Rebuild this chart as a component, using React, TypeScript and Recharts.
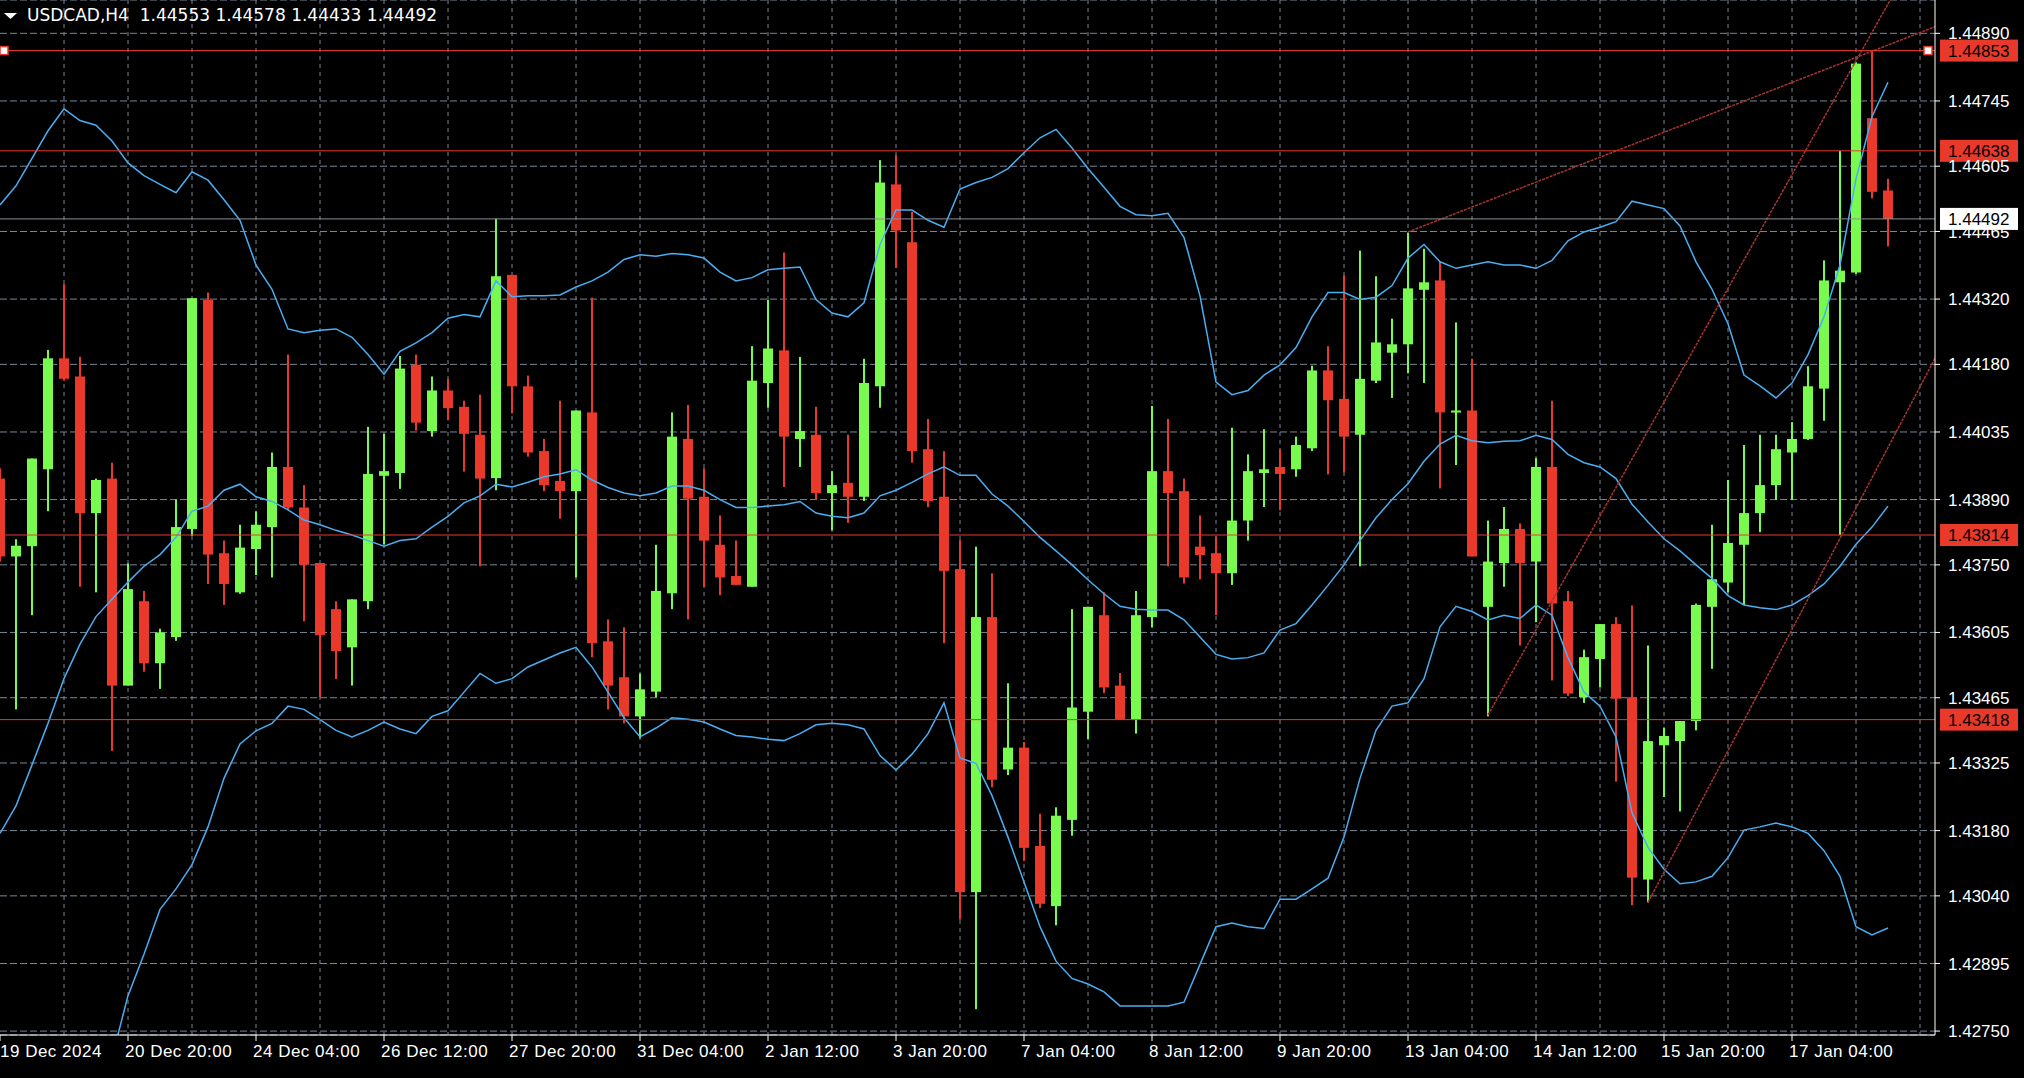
import {
  ComposedChart,
  XAxis,
  YAxis,
  CartesianGrid,
  Bar,
  Line,
  ReferenceLine,
  ReferenceDot,
} from "recharts";

// USDCAD H4 candles, bar index = position in the arrays
const opens = [
  1.43935, 1.43768, 1.4379, 1.43955, 1.44193, 1.44154, 1.43861, 1.43935, 1.43491, 1.43672,
  1.43539, 1.43595, 1.43827, 1.44318, 1.43775, 1.43691, 1.43784, 1.43831, 1.4396, 1.43873,
  1.43754, 1.43655, 1.43573, 1.43672, 1.43941, 1.43947, 1.44179, 1.44037, 1.44124, 1.44089,
  1.44029, 1.43936, 1.44372, 1.44133, 1.43994, 1.4393, 1.43908, 1.44077, 1.43586, 1.43509,
  1.43425, 1.43478, 1.43689, 1.4402, 1.43896, 1.43793, 1.43726, 1.43703, 1.4414, 1.4421,
  1.4402, 1.44029, 1.43904, 1.43926, 1.43896, 1.44133, 1.44566, 1.44442, 1.43998, 1.43896,
  1.43741, 1.43048, 1.43638, 1.43311, 1.43358, 1.43147, 1.43018, 1.43203, 1.43435, 1.43642,
  1.43491, 1.43418, 1.43638, 1.43951, 1.43908, 1.43789, 1.43775, 1.43732, 1.43845, 1.43947,
  1.4396, 1.43955, 1.44, 1.44167, 1.44106, 1.44029, 1.44145, 1.44205, 1.44223, 1.4434,
  1.4436, 1.44078, 1.44081, 1.4366, 1.43754, 1.43827, 1.43757, 1.4396, 1.43672, 1.43466,
  1.43548, 1.43623, 1.43466, 1.43075, 1.43363, 1.43372, 1.43415, 1.4366, 1.43712, 1.43793,
  1.43861, 1.43921, 1.43991, 1.4402, 1.44128, 1.44356, 1.44377, 1.44708, 1.44553,
];
const highs = [
  1.43957, 1.43805, 1.43978, 1.44211, 1.44352, 1.44196, 1.43935, 1.43969, 1.43753, 1.43694,
  1.43613, 1.4389, 1.44322, 1.44334, 1.43802, 1.43836, 1.43865, 1.43991, 1.44201, 1.43921,
  1.43754, 1.43672, 1.43676, 1.44046, 1.44031, 1.44198, 1.44201, 1.44154, 1.44149, 1.44102,
  1.44115, 1.44492, 1.44372, 1.44156, 1.4402, 1.44102, 1.44081, 1.44323, 1.43633, 1.43616,
  1.43517, 1.43793, 1.44077, 1.44093, 1.43957, 1.43856, 1.43802, 1.44219, 1.44318, 1.4442,
  1.44196, 1.44089, 1.43951, 1.44029, 1.44192, 1.44618, 1.44629, 1.44507, 1.44063, 1.43994,
  1.43803, 1.43789, 1.43732, 1.43496, 1.4337, 1.43216, 1.4323, 1.43655, 1.4366, 1.43691,
  1.43518, 1.43694, 1.44091, 1.44063, 1.43935, 1.43856, 1.43811, 1.44044, 1.43987, 1.44041,
  1.43998, 1.44025, 1.44177, 1.44219, 1.44371, 1.44424, 1.44369, 1.44278, 1.44462, 1.44428,
  1.444, 1.4427, 1.44192, 1.43845, 1.43874, 1.43839, 1.43979, 1.44102, 1.43694, 1.43568,
  1.43623, 1.43638, 1.43663, 1.43577, 1.43401, 1.43415, 1.43667, 1.43836, 1.43932, 1.44007,
  1.44029, 1.44029, 1.44056, 1.44176, 1.44403, 1.44638, 1.44828, 1.44853, 1.44578,
];
const lows = [
  1.43757, 1.4344, 1.43642, 1.43865, 1.44145, 1.43703, 1.43691, 1.43351, 1.43491, 1.43521,
  1.43484, 1.43587, 1.43812, 1.43709, 1.43664, 1.43688, 1.43728, 1.43723, 1.43868, 1.43629,
  1.43466, 1.43505, 1.43491, 1.43655, 1.43794, 1.43913, 1.44038, 1.44025, 1.4406, 1.4395,
  1.43747, 1.4391, 1.44075, 1.43982, 1.43908, 1.43849, 1.43723, 1.43552, 1.4344, 1.4341,
  1.43378, 1.43466, 1.43655, 1.43633, 1.43703, 1.43685, 1.43707, 1.43703, 1.44087, 1.43917,
  1.4396, 1.4389, 1.43824, 1.4384, 1.43887, 1.44087, 1.44387, 1.43969, 1.43874, 1.43582,
  1.42989, 1.42797, 1.43273, 1.43299, 1.43115, 1.43014, 1.42977, 1.43169, 1.43376, 1.43475,
  1.43418, 1.43388, 1.43616, 1.43747, 1.4371, 1.43719, 1.43642, 1.43707, 1.43802, 1.43874,
  1.43867, 1.43939, 1.43994, 1.43944, 1.43948, 1.43747, 1.4414, 1.44108, 1.44161, 1.4414,
  1.43914, 1.43964, 1.43768, 1.43425, 1.43703, 1.43577, 1.43627, 1.43502, 1.43469, 1.43454,
  1.43487, 1.43285, 1.4302, 1.43026, 1.43252, 1.43221, 1.43395, 1.43527, 1.43691, 1.43664,
  1.4382, 1.43889, 1.43889, 1.44018, 1.44059, 1.43814, 1.44374, 1.44536, 1.44433,
];
const closes = [
  1.43768, 1.43791, 1.43978, 1.44193, 1.44149, 1.43861, 1.43932, 1.43491, 1.43698, 1.43539,
  1.43605, 1.43831, 1.44322, 1.43772, 1.43709, 1.43787, 1.43836, 1.4396, 1.43873, 1.4375,
  1.43599, 1.43565, 1.43676, 1.43945, 1.43951, 1.44171, 1.44055, 1.44124, 1.44086, 1.44031,
  1.43935, 1.44369, 1.44133, 1.43991, 1.43921, 1.43908, 1.44081, 1.43582, 1.43491, 1.43425,
  1.43483, 1.43694, 1.44025, 1.43892, 1.43802, 1.43723, 1.43707, 1.44145, 1.44214, 1.44025,
  1.44037, 1.43904, 1.43921, 1.43896, 1.4414, 1.4457, 1.44467, 1.43994, 1.43887, 1.43737,
  1.43048, 1.43638, 1.43289, 1.43358, 1.43143, 1.43023, 1.43212, 1.43444, 1.4366, 1.43487,
  1.43418, 1.43642, 1.43951, 1.43904, 1.43723, 1.43771, 1.43732, 1.43845, 1.43951, 1.43955,
  1.43945, 1.44007, 1.44167, 1.44103, 1.44025, 1.44149, 1.44227, 1.44223, 1.44343, 1.44356,
  1.44077, 1.44081, 1.43768, 1.43757, 1.43827, 1.43754, 1.4396, 1.43667, 1.43474, 1.43552,
  1.43623, 1.43463, 1.43079, 1.43372, 1.43383, 1.43415, 1.43664, 1.43719, 1.43797, 1.43861,
  1.43921, 1.43998, 1.4402, 1.44133, 1.4436, 1.44381, 1.44825, 1.4455, 1.44492,
];

// Bollinger bands as drawn on the chart
const upperBand = [
  1.44522, 1.44563, 1.44622, 1.44681, 1.44728, 1.44703, 1.44693, 1.44659, 1.44612, 1.44585,
  1.44566, 1.44548, 1.44593, 1.44575, 1.44533, 1.44489, 1.44393, 1.44341, 1.44256, 1.44248,
  1.44253, 1.44256, 1.44238, 1.44201, 1.44159, 1.44208, 1.44226, 1.44248, 1.44279, 1.44287,
  1.44282, 1.44359, 1.44325, 1.44327, 1.44327, 1.44329, 1.44346, 1.44359, 1.44378, 1.44405,
  1.44415, 1.44412, 1.44418, 1.44415, 1.44408, 1.44378, 1.44359, 1.44366, 1.44383, 1.44386,
  1.44389, 1.44319, 1.4429, 1.44282, 1.44312, 1.44437, 1.44511, 1.44511, 1.44489, 1.44474,
  1.44556, 1.4457, 1.44581, 1.446, 1.44634, 1.44666, 1.44684, 1.44644, 1.446, 1.4456,
  1.44519, 1.44501, 1.44499, 1.44504, 1.44452, 1.44327, 1.44142, 1.44115, 1.44124, 1.44157,
  1.44179, 1.44216, 1.44282, 1.44334, 1.44334, 1.44319, 1.44324, 1.44349, 1.44408, 1.44437,
  1.444, 1.44386, 1.44393, 1.444, 1.44393, 1.44393, 1.44386, 1.44403, 1.44445, 1.44464,
  1.44474, 1.44486, 1.4453, 1.44522, 1.44514, 1.44477, 1.444, 1.44341, 1.44267, 1.44157,
  1.44134, 1.44108, 1.4414, 1.44201, 1.44282, 1.44393, 1.44578, 1.44711, 1.44785,
];
const middleBand = [
  1.43174, 1.43233, 1.43321, 1.4341, 1.43506, 1.4358, 1.43639, 1.43676, 1.43713, 1.43747,
  1.43772, 1.43809, 1.43865, 1.43876, 1.4391, 1.43923, 1.43896, 1.43886, 1.43868, 1.43846,
  1.43836, 1.43824, 1.43814, 1.43802, 1.4379, 1.43802, 1.43806, 1.43831, 1.43854, 1.43883,
  1.43898, 1.43923, 1.43917, 1.43927, 1.43939, 1.43945, 1.43954, 1.43932, 1.43916, 1.43904,
  1.43898, 1.43904, 1.43919, 1.43919, 1.4391, 1.4389, 1.43873, 1.43873, 1.43876, 1.43879,
  1.43886, 1.43861, 1.43854, 1.43851, 1.43861, 1.43898, 1.4391, 1.43927, 1.43945, 1.4396,
  1.43942, 1.43942, 1.43902, 1.43876, 1.43843, 1.43809, 1.4378, 1.4375, 1.43718, 1.43688,
  1.43661, 1.43655, 1.43653, 1.43653, 1.43632, 1.43595, 1.43558, 1.43548, 1.43551, 1.43561,
  1.4361, 1.43624, 1.43664, 1.43706, 1.4375, 1.43802, 1.43851, 1.4389, 1.43924, 1.43972,
  1.44009, 1.44028, 1.44016, 1.44012, 1.44015, 1.44016, 1.44028, 1.44019, 1.43987, 1.43969,
  1.4396, 1.43935, 1.4388, 1.43842, 1.43806, 1.4378, 1.4375, 1.43721, 1.43684, 1.43664,
  1.43658, 1.43654, 1.43664, 1.43684, 1.43709, 1.43747, 1.43794, 1.43831, 1.43876,
];
const lowerBand = [
  1.41826, 1.41902, 1.42021, 1.42139, 1.42284, 1.42457, 1.42585, 1.42693, 1.42826, 1.42915,
  1.43011, 1.43055, 1.43107, 1.43188, 1.43292, 1.43366, 1.43394, 1.4341, 1.43447, 1.4344,
  1.43418, 1.43395, 1.43381, 1.43395, 1.43413, 1.43398, 1.43388, 1.43425, 1.43437, 1.43477,
  1.43517, 1.43496, 1.43506, 1.43531, 1.43546, 1.43561, 1.43573, 1.43531, 1.43477, 1.43422,
  1.43381, 1.434, 1.43422, 1.43419, 1.43413, 1.43398, 1.43384, 1.43381, 1.43376, 1.43373,
  1.43388, 1.43407, 1.4341, 1.43407, 1.43398, 1.43341, 1.4331, 1.43344, 1.43388, 1.43454,
  1.43336, 1.43324, 1.43255, 1.43166, 1.4307, 1.42974, 1.429, 1.42863, 1.42851, 1.42834,
  1.42804, 1.42804, 1.42804, 1.42804, 1.42812, 1.42893, 1.42974, 1.42982, 1.42974, 1.4297,
  1.43033, 1.43033, 1.43055, 1.43078, 1.43166, 1.43292, 1.43395, 1.43447, 1.43454, 1.43506,
  1.43617, 1.43661, 1.4365, 1.43632, 1.43642, 1.43635, 1.43664, 1.43642, 1.43551, 1.43477,
  1.43447, 1.43381, 1.43218, 1.43144, 1.43097, 1.43066, 1.4307, 1.43082, 1.43122, 1.43181,
  1.43188, 1.43196, 1.43188, 1.43174, 1.43137, 1.43082, 1.42974, 1.42956, 1.42971,
];

const timeLabels = [
  "19 Dec 2024", "20 Dec 20:00", "24 Dec 04:00", "26 Dec 12:00", "27 Dec 20:00",
  "31 Dec 04:00", "2 Jan 12:00", "3 Jan 20:00", "7 Jan 04:00", "8 Jan 12:00",
  "9 Jan 20:00", "13 Jan 04:00", "14 Jan 12:00", "15 Jan 20:00", "17 Jan 04:00",
];
const priceTicks = [
  1.4275, 1.42895, 1.4304, 1.4318, 1.43325, 1.43465, 1.43605, 1.4375,
  1.4389, 1.44035, 1.4418, 1.4432, 1.44465, 1.44605, 1.44745, 1.4489,
];
const levelLines = [1.44853, 1.44638, 1.43814, 1.43418];
const bidPrice = 1.44492;
const trendLines = [
  [{ x: 88, y: 1.44464 }, { x: 121, y: 1.44905 }],
  [{ x: 93, y: 1.43428 }, { x: 121, y: 1.45136 }],
  [{ x: 103, y: 1.43026 }, { x: 121, y: 1.44197 }],
];

const BULL = "#78FB4E";
const BEAR = "#E8392B";
const BAND = "#4AAEF2";
const GRID = "#7B8796";
const TREND = "#A8342F";

const LABEL_STEP = 8;
const labelBars = timeLabels.map((_, i) => i * LABEL_STEP);
const gridBars = Array.from({ length: 30 }, (_, i) => (i + 1) * 4);

const rows = opens.map((open, i) => ({
  bar: i,
  open,
  high: highs[i],
  low: lows[i],
  close: closes[i],
  range: [lows[i], highs[i]],
  upper: upperBand[i],
  middle: middleBand[i],
  lower: lowerBand[i],
}));

function Candle(props: any) {
  const { x, y, width, height, payload } = props;
  if (!payload || x == null) return null;
  const { open, close, high, low } = payload;
  const top = Math.min(y, y + height);
  const h = Math.abs(height);
  const span = high - low || 1e-9;
  const toY = (v: number) => top + ((high - v) / span) * h;
  const cx = x + width / 2;
  const color = close >= open ? BULL : BEAR;
  const bTop = toY(Math.max(open, close));
  const bBot = toY(Math.min(open, close));
  return (
    <g>
      <rect x={cx - 1} y={top} width={2} height={Math.max(h, 1)} fill={color} />
      <rect x={cx - 5} y={bTop} width={10} height={Math.max(bBot - bTop, 2)} fill={color} />
    </g>
  );
}

function TimeTick(props: any) {
  const { x, y, payload } = props;
  const label = timeLabels[Math.round(payload.value / LABEL_STEP)];
  return (
    <text
      x={Math.max(x - 3, 0)}
      y={y + 14}
      fill="#fff"
      fontSize={17}
      letterSpacing={0.5}
      textAnchor="start"
    >
      {label}
    </text>
  );
}

function PriceTag(props: any) {
  const { viewBox, price, bg } = props;
  if (!viewBox) return null;
  const x = viewBox.x + viewBox.width + 5;
  const y = viewBox.y;
  return (
    <g>
      <rect x={x} y={y - 11} width={78} height={22} fill={bg} />
      <text x={x + 8} y={y} dy="0.36em" fill="#000" fontSize={17}>
        {price.toFixed(5)}
      </text>
    </g>
  );
}

function Handle(props: any) {
  const { cx, cy } = props;
  return <rect x={cx - 4} y={cy - 4} width={8} height={8} fill="#fff" stroke={BEAR} strokeWidth={1.5} />;
}

export default function App() {
  const last = opens.length - 1;
  const header = `USDCAD,H4  ${opens[last].toFixed(5)} ${highs[last].toFixed(5)} ${lows[last].toFixed(5)} ${closes[last].toFixed(5)}`;
  return (
    <div
      style={{
        position: "fixed",
        left: 0,
        top: 0,
        width: 2024,
        height: 1078,
        background: "#000",
        overflow: "hidden",
        fontFamily: "'Liberation Sans', Arial, sans-serif",
      }}
    >
      <ComposedChart
        width={2024}
        height={1078}
        data={rows}
        margin={{ top: 0, right: 0, bottom: 0, left: 0 }}
      >
        <CartesianGrid vertical={false} stroke={GRID} strokeDasharray="7 3" />
        <CartesianGrid horizontal={false} verticalValues={gridBars} stroke={GRID} strokeDasharray="4 4" />
        <XAxis
          dataKey="bar"
          type="number"
          domain={[0, 120.9375]}
          allowDataOverflow
          ticks={labelBars}
          interval={0}
          height={43}
          stroke="#fff"
          tickSize={6}
          tick={<TimeTick />}
        />
        <YAxis
          orientation="right"
          type="number"
          domain={[1.427416, 1.449615]}
          allowDataOverflow
          ticks={priceTicks}
          interval={0}
          width={89}
          stroke="#fff"
          tickSize={5}
          tickMargin={8}
          tick={{ fill: "#fff", fontSize: 17 }}
          tickFormatter={(v: number) => v.toFixed(5)}
        />
        <Bar dataKey="range" barSize={10} shape={(p: any) => <Candle {...p} />} isAnimationActive={false} />
        {["upper", "middle", "lower"].map((key) => (
          <Line
            key={key}
            dataKey={key}
            type="linear"
            stroke={BAND}
            strokeWidth={1.5}
            dot={false}
            activeDot={false}
            isAnimationActive={false}
          />
        ))}
        {trendLines.map((seg, i) => (
          <ReferenceLine
            key={`t${i}`}
            segment={seg}
            stroke={TREND}
            strokeWidth={1.5}
            strokeDasharray="3 1"
            ifOverflow="hidden"
          />
        ))}
        <ReferenceLine
          y={bidPrice}
          stroke="#8A8F98"
          strokeWidth={1}
          label={<PriceTag price={bidPrice} bg="#fff" />}
        />
        {levelLines.map((v) => (
          <ReferenceLine
            key={v}
            y={v}
            stroke={BEAR}
            strokeWidth={1}
            label={<PriceTag price={v} bg={BEAR} />}
          />
        ))}
        <ReferenceDot x={0.25} y={levelLines[0]} r={4} shape={(p: any) => <Handle {...p} />} ifOverflow="visible" />
        <ReferenceDot x={120.5} y={levelLines[0]} r={4} shape={(p: any) => <Handle {...p} />} ifOverflow="visible" />
      </ComposedChart>
      <div
        style={{
          position: "absolute",
          left: 4,
          top: 5,
          color: "#fff",
          fontFamily: "'DejaVu Sans', sans-serif",
          fontSize: 17,
          lineHeight: "20px",
          whiteSpace: "pre",
          display: "flex",
          alignItems: "center",
        }}
      >
        <svg width={23} height={20}>
          <polygon points="0,8 13,8 6.5,14" fill="#fff" />
        </svg>
        {header}
      </div>
    </div>
  );
}
